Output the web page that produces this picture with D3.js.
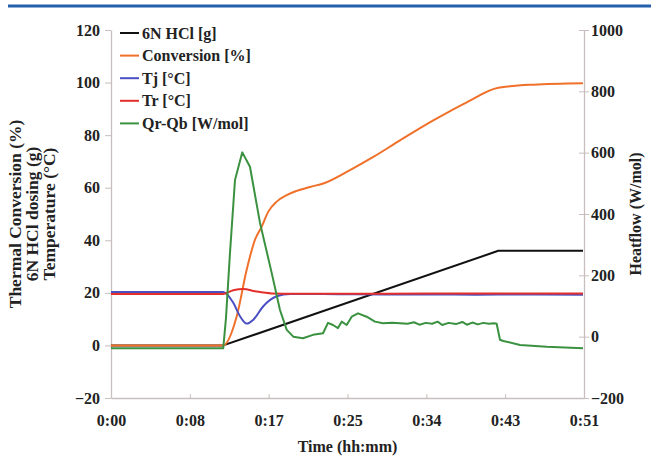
<!DOCTYPE html>
<html>
<head>
<meta charset="utf-8">
<script src="https://cdn.jsdelivr.net/npm/d3@7"></script>
<style>
  body { margin: 0; background: #fff; }
  svg text { font-family: "Liberation Serif", "Times New Roman", serif; font-weight: bold; }
</style>
</head>
<body>
<svg></svg>
<script>
// time in minutes
const hclTime = [0, 12.3, 42.45, 51.73];
const hclVal  = [0, 0, 36, 36];

const convTime = [0, 12.3, 13.78, 14.87, 15.78, 16.52, 17.24, 18.16, 19.26, 20.35, 21.81, 23.27, 26.19, 28.75, 31.67, 35.32, 38.99, 42.45, 46.28, 51.73];
const convVal  = [0, 0, 11.1, 28.8, 40.2, 45.2, 50.9, 54.7, 57.2, 58.8, 60.3, 61.6, 66.7, 71.7, 78.0, 85.6, 92.5, 98.0, 99.2, 99.7];

const tjTime = [0, 12.3, 13.4, 14.14, 14.87, 15.6, 16.69, 18.16, 19.62, 25, 30, 35, 40, 45, 51.73];
const tjVal  = [20.3, 20.3, 16.2, 11.1, 8.3, 9.8, 14.9, 18.7, 19.6, 19.5, 19.4, 19.4, 19.3, 19.4, 19.3];

const trTime = [0, 12.3, 13.4, 14.5, 15.8, 17.6, 20, 30, 40, 51.73];
const trVal  = [19.6, 19.6, 21.0, 21.5, 20.6, 19.8, 19.7, 19.7, 19.8, 19.8];

const qTime = [0, 12.3, 12.6, 13.04, 13.59, 14.39, 15.23, 16.33, 17.61, 18.52, 19.26, 19.98, 21.04, 22.14, 23.24, 23.78, 24.33, 24.88, 25.28, 25.83, 26.38, 27.07, 28.02, 28.93, 29.81, 30.8, 31.67,
  32.5, 33.2, 33.8, 34.5, 35.2, 35.8, 36.3, 37.0, 37.8, 38.5, 39.0, 39.6, 40.2, 40.8, 41.4, 42.0, 42.27, 42.63, 43.0, 44.83, 47.75, 51.73];
const qVal  = [-38, -38, 60, 273, 511, 601, 554, 371, 208, 87, 22, 0, -5, 6, 11, 45, 38, 28, 49, 38, 65, 76, 65, 49, 44, 45, 44,
  42, 47, 39, 45, 42, 49, 38, 45, 41, 48, 39, 46, 40, 45, 42, 44, 42, -10, -14, -27, -33, -38];

const xTicks = [0, 8.64, 17.28, 25.92, 34.56, 43.2, 51.84];
const xTickLabels = ["0:00", "0:08", "0:17", "0:25", "0:34", "0:43", "0:51"];
const leftTicks = [-20, 0, 20, 40, 60, 80, 100, 120];
const rightTicks = [-200, 0, 200, 400, 600, 800, 1000];

const seriesNames = ["6N HCl [g]", "Conversion [%]", "Tj [°C]", "Tr [°C]", "Qr-Qb [W/mol]"];
const colors = ["#111111", "#f0702a", "#4a4fc2", "#e3302b", "#3a9140"];

const size = {w: 651, h: 458};
const plot = {l: 111, r: 584, t: 30, b: 398};

const svg = d3.select('svg')
    .attr('width', size.w)
    .attr('height', size.h);

// top rule
svg.append('line')
    .attr('x1', 8).attr('x2', size.w)
    .attr('y1', 6).attr('y2', 6)
    .attr('stroke', '#2461ad').attr('stroke-width', 3);

const x = d3.scaleLinear().domain([0, 51.84]).range([plot.l, plot.r]);
const yL = d3.scaleLinear().domain([-20, 120]).range([plot.b, plot.t]);
const yR = d3.scaleLinear().domain([-200, 1000]).range([plot.b, plot.t]);

const axisColor = '#c8bebe';

function styleAxis(g) {
    g.select('.domain').attr('stroke', axisColor).attr('stroke-width', 1.3);
    g.selectAll('.tick line').attr('stroke', axisColor);
    g.selectAll('.tick text').attr('fill', '#222').style('font-size', '16px');
}

svg.append('g')
    .attr('transform', `translate(0, ${plot.b})`)
    .call(d3.axisBottom(x).tickValues(xTicks).tickFormat((d, i) => xTickLabels[i])
        .tickSizeInner(-4).tickSizeOuter(0).tickPadding(17))
    .call(styleAxis);

svg.append('g')
    .attr('transform', `translate(${plot.l}, 0)`)
    .call(d3.axisLeft(yL).tickValues(leftTicks).tickSizeInner(6).tickSizeOuter(0).tickPadding(5))
    .call(styleAxis);

svg.append('g')
    .attr('transform', `translate(${plot.r}, 0)`)
    .call(d3.axisRight(yR).tickValues(rightTicks).tickFormat(d3.format('d'))
        .tickSizeInner(5).tickSizeOuter(0).tickPadding(2))
    .call(styleAxis)
    .call(g => g.selectAll('.tick line').attr('x1', -5));

// series
const smooth = [false, true, true, true, false];
const rightAxis = [false, false, false, false, true];
const series = [
    [hclTime, hclVal],
    [convTime, convVal],
    [tjTime, tjVal],
    [trTime, trVal],
    [qTime, qVal]
];

series.forEach(([ts, vs], i) => {
    const y = rightAxis[i] ? yR : yL;
    const pts = ts.map((t, j) => [t, vs[j]]);
    const gen = d3.line()
        .x(d => x(d[0]))
        .y(d => y(d[1]))
        .curve(smooth[i] ? d3.curveMonotoneX : d3.curveLinear);
    svg.append('path')
        .datum(pts)
        .attr('fill', 'none')
        .attr('stroke', colors[i])
        .attr('stroke-width', 2)
        .attr('stroke-linejoin', 'round')
        .attr('d', gen);
});

// legend
const legend = svg.append('g').attr('transform', 'translate(120, 33)');
seriesNames.forEach((name, i) => {
    const row = legend.append('g').attr('transform', `translate(0, ${i * 22.6})`);
    row.append('line')
        .attr('x1', 0).attr('x2', 19)
        .attr('stroke', colors[i]).attr('stroke-width', 2);
    row.append('text')
        .attr('x', 22).attr('y', 5.5)
        .style('font-size', '16px')
        .attr('fill', '#222')
        .text(name);
});

// axis titles
const midY = (plot.t + plot.b) / 2;
["Thermal Conversion (%)", "6N HCl dosing (g)", "Temperature (°C)"].forEach((t, i) => {
    svg.append('text')
        .attr('transform', `translate(${21 + i * 17}, ${midY}) rotate(-90)`)
        .attr('text-anchor', 'middle')
        .style('font-size', '17.5px')
        .attr('fill', '#222')
        .text(t);
});

svg.append('text')
    .attr('transform', `translate(641, ${midY}) rotate(-90)`)
    .attr('text-anchor', 'middle')
    .style('font-size', '16px')
    .attr('fill', '#222')
    .text("Heatflow (W/mol)");

svg.append('text')
    .attr('x', (plot.l + plot.r) / 2)
    .attr('y', 452)
    .attr('text-anchor', 'middle')
    .style('font-size', '16px')
    .attr('fill', '#222')
    .text("Time (hh:mm)");
</script>
</body>
</html>
